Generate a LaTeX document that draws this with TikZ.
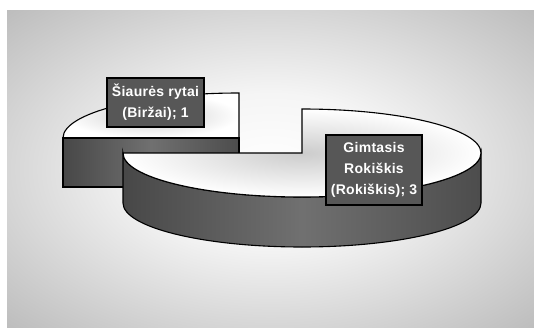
\documentclass[tikz,border=0pt]{standalone}
\usepackage{fontspec}
\newfontfamily\chartfont{Liberation Sans}[LetterSpace=2]
\usetikzlibrary{positioning, calc}
\pgfdeclareradialshading{backglow}{\pgfpoint{0bp}{0bp}}{%
    color(0bp)=(white); color(12bp)=(white!96!black); color(28bp)=(black!19);
    color(42bp)=(black!32); color(50bp)=(black!33)}
\tikzset{
    slice top/.style={ % Upper faces of the pie slices
        draw, line width=1.1pt,
        inner color=black!20, outer color=white
    },
    slice side/.style={ % Dark walls of the slices
        draw, line width=1.1pt,
        left color=black!72, right color=black!70, middle color=black!56
    },
    label box/.style={ % Data labels
        draw=black, line width=1.1pt, fill=black!66, text=white,
        align=center, inner sep=0pt,
        font=\chartfont\bfseries\fontsize{14}{21}\selectfont
    },
}
\def\pierx{179}
\def\piery{44}

\begin{document}
\begin{tikzpicture}[x=1pt, y=1pt]
    \useasboundingbox (0,0) rectangle (534,327);
    \fill[white] (0,0) rectangle (534,327);
    \shade[shading=backglow] (7,0) rectangle (534,316);

    % small slice (pulled out)
    \coordinate (sc) at (239,189);
    \path[slice top] (sc) -- ++(0,45) arc[start angle=90, end angle=180, x radius=176, y radius=45] -- cycle;
    \path[slice side] (sc) -- ++(-176,0) -- ++(0,-49) -- ++(176,0) -- cycle;

    % big slice
    \coordinate (bc) at (302,174);
    \path[slice side] ($(bc)+(-\pierx,0)$) -- ++(0,-50)
        arc[start angle=180, end angle=360, x radius=\pierx, y radius=\piery] -- ++(0,50)
        arc[start angle=0, end angle=-180, x radius=\pierx, y radius=\piery] -- cycle;
    \path[slice top] (bc) -- ++(0,\piery)
        arc[start angle=90, end angle=-180, x radius=\pierx, y radius=\piery] -- cycle;

    \node[label box, minimum width=97pt, minimum height=49pt] (birzai) at (155.5,224.5)
        {Šiaurės rytai\\(Biržai); 1};
    \node[label box, minimum width=96pt, minimum height=70pt] (rokiskis) at (374,157)
        {Gimtasis\\Rokiškis\\(Rokiškis); 3};
\end{tikzpicture}
\end{document}
